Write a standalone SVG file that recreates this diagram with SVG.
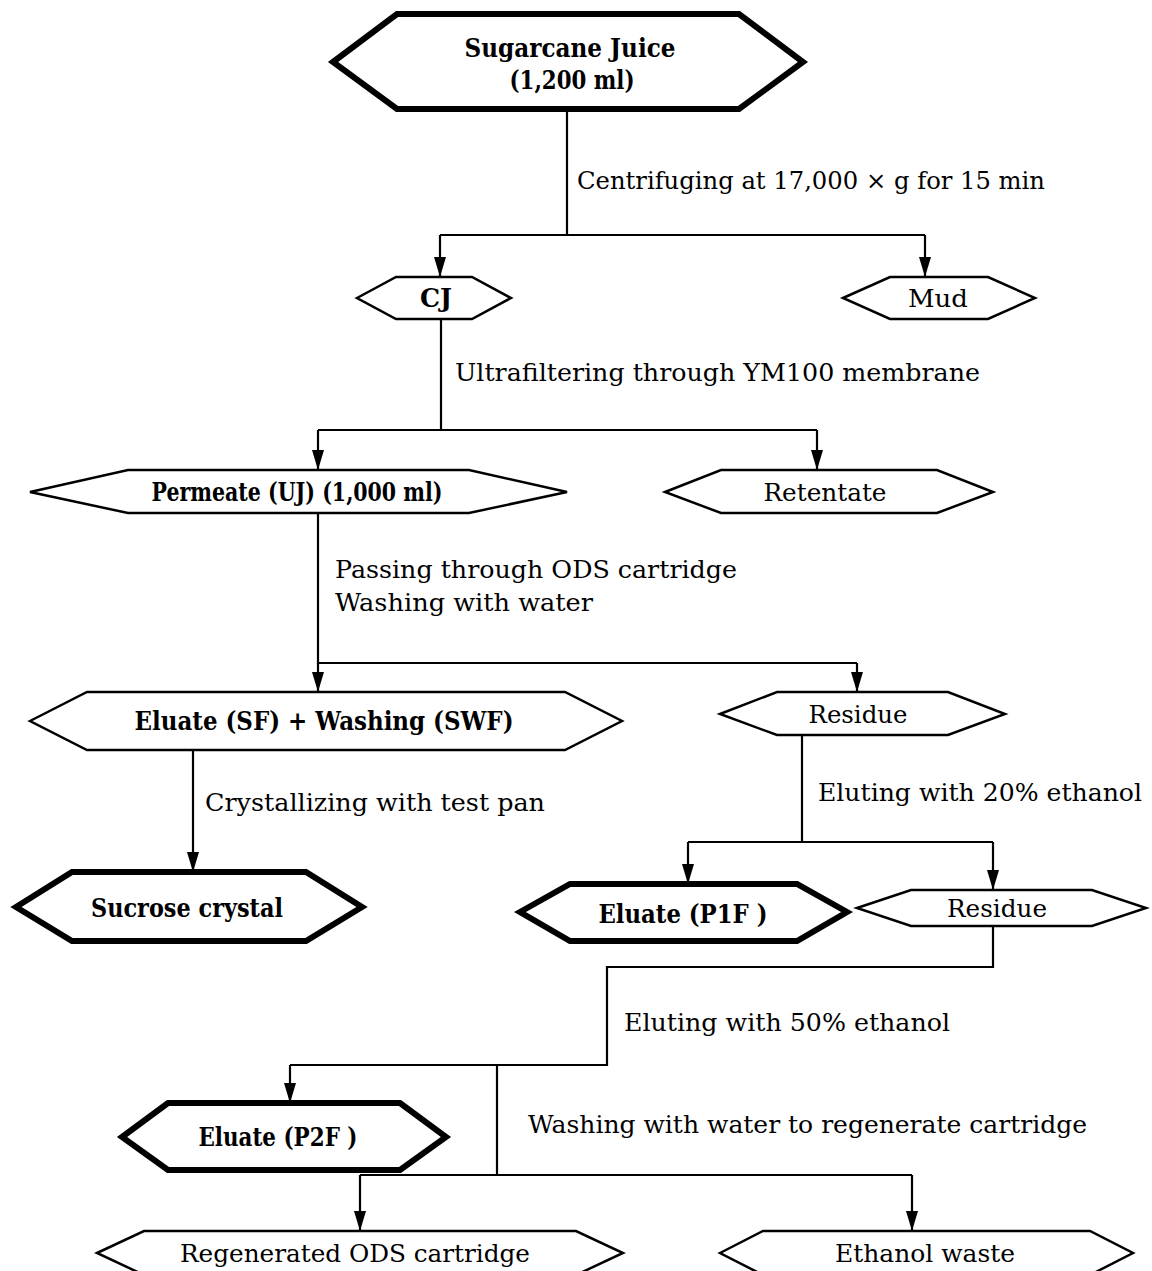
<svg xmlns="http://www.w3.org/2000/svg" width="1152" height="1271" viewBox="0 0 1152 1271">
<style>
.bg{fill:#fff}
.hx{fill:#fff;stroke:#000;stroke-width:2.5;stroke-linejoin:miter}
.hk{fill:#fff;stroke:#000;stroke-width:6;stroke-linejoin:miter}
.t{font-family:"DejaVu Serif","Liberation Serif",serif;font-size:25px;fill:#000;dominant-baseline:central}
.b{font-family:"DejaVu Serif","Liberation Serif",serif;font-size:26px;font-weight:bold;fill:#000;dominant-baseline:central;text-anchor:middle}
.m{text-anchor:middle}
.c{fill:none;stroke:#000;stroke-width:2.2}
</style>
<defs>
<marker id="ah" viewBox="0 0 20 12" refX="20" refY="6" markerWidth="20" markerHeight="12" markerUnits="userSpaceOnUse" orient="auto">
<path d="M0,0 L20,6 L0,12 z" fill="#000"/>
</marker>
</defs>
<rect class="bg" x="0" y="0" width="1152" height="1271"/>

<g id="connectors">
<path class="c" d="M567,110 V235 M440,235 H925"/>
<path class="c" d="M440,235 V277" marker-end="url(#ah)"/>
<path class="c" d="M925,235 V277" marker-end="url(#ah)"/>
<path class="c" d="M441,319 V430 M318,430 H817"/>
<path class="c" d="M318,430 V470" marker-end="url(#ah)"/>
<path class="c" d="M817,430 V470" marker-end="url(#ah)"/>
<path class="c" d="M318,513 V663 H857"/>
<path class="c" d="M318,663 V692" marker-end="url(#ah)"/>
<path class="c" d="M857,663 V692" marker-end="url(#ah)"/>
<path class="c" d="M193,750 V872" marker-end="url(#ah)"/>
<path class="c" d="M802,735 V842 M688,842 H993"/>
<path class="c" d="M688,842 V884" marker-end="url(#ah)"/>
<path class="c" d="M993,842 V890" marker-end="url(#ah)"/>
<path class="c" d="M993,926 V967 H607 V1065 H290"/>
<path class="c" d="M290,1065 V1103" marker-end="url(#ah)"/>
<path class="c" d="M497,1065 V1175 M360,1175 H912"/>
<path class="c" d="M360,1175 V1231" marker-end="url(#ah)"/>
<path class="c" d="M912,1175 V1231" marker-end="url(#ah)"/>
<text class="t" x="577" y="180" textLength="468" lengthAdjust="spacingAndGlyphs">Centrifuging at 17,000 × g for 15 min</text>
<text class="t" x="455" y="372" textLength="525" lengthAdjust="spacingAndGlyphs">Ultrafiltering through YM100 membrane</text>
<text class="t" x="335" y="569" textLength="402" lengthAdjust="spacingAndGlyphs">Passing through ODS cartridge</text>
<text class="t" x="335" y="602" textLength="258" lengthAdjust="spacingAndGlyphs">Washing with water</text>
<text class="t" x="205" y="802" textLength="340" lengthAdjust="spacingAndGlyphs">Crystallizing with test pan</text>
<text class="t" x="818" y="792" textLength="324" lengthAdjust="spacingAndGlyphs">Eluting with 20% ethanol</text>
<text class="t" x="624" y="1022" textLength="326" lengthAdjust="spacingAndGlyphs">Eluting with 50% ethanol</text>
<text class="t" x="528" y="1124" textLength="559" lengthAdjust="spacingAndGlyphs">Washing with water to regenerate cartridge</text>
</g>

<g id="sugarcane">
<polygon class="hk" points="333,62 397,14 739,14 803,62 739,109 397,109"/>
<text class="b" x="570" y="48" textLength="211" lengthAdjust="spacingAndGlyphs">Sugarcane Juice</text>
<text class="b" x="572" y="80" textLength="125" lengthAdjust="spacingAndGlyphs">(1,200 ml)</text>
</g>
<g id="cj">
<polygon class="hx" points="357,298 396,277 472,277 511,298 472,319 396,319"/>
<text class="b" x="436" y="298" textLength="32" lengthAdjust="spacingAndGlyphs">CJ</text>
</g>
<g id="mud">
<polygon class="hx" points="843,298 890,277 988,277 1035,298 988,319 890,319"/>
<text class="t m" x="938" y="298" textLength="60" lengthAdjust="spacingAndGlyphs">Mud</text>
</g>
<g id="permeate">
<polygon class="hx" points="30,492 128,470 469,470 567,492 469,513 128,513"/>
<text class="b" x="297" y="492" textLength="291" lengthAdjust="spacingAndGlyphs">Permeate (UJ) (1,000 ml)</text>
</g>
<g id="retentate">
<polygon class="hx" points="665,492 721,470 937,470 993,492 937,513 721,513"/>
<text class="t m" x="825" y="492" textLength="123" lengthAdjust="spacingAndGlyphs">Retentate</text>
</g>
<g id="eluate-sf">
<polygon class="hx" points="30,721 87,692 565,692 622,721 565,750 87,750"/>
<text class="b" x="324" y="721" textLength="379" lengthAdjust="spacingAndGlyphs">Eluate (SF) + Washing (SWF)</text>
</g>
<g id="residue1">
<polygon class="hx" points="720,714 777,692 948,692 1005,714 948,735 777,735"/>
<text class="t m" x="858" y="714" textLength="99" lengthAdjust="spacingAndGlyphs">Residue</text>
</g>
<g id="sucrose">
<polygon class="hk" points="16,907 72,872 306,872 362,907 306,941 72,941"/>
<text class="b" x="187" y="908" textLength="192" lengthAdjust="spacingAndGlyphs">Sucrose crystal</text>
</g>
<g id="eluate-p1f">
<polygon class="hk" points="520,912 570,884 797,884 847,912 797,941 570,941"/>
<text class="b" x="683" y="914" textLength="169" lengthAdjust="spacingAndGlyphs">Eluate (P1F )</text>
</g>
<g id="residue2">
<polygon class="hx" points="857,908 911,890 1092,890 1146,908 1092,926 911,926"/>
<text class="t m" x="997" y="908" textLength="100" lengthAdjust="spacingAndGlyphs">Residue</text>
</g>
<g id="eluate-p2f">
<polygon class="hk" points="122,1137 168,1103 400,1103 446,1137 400,1170 168,1170"/>
<text class="b" x="278" y="1137" textLength="159" lengthAdjust="spacingAndGlyphs">Eluate (P2F )</text>
</g>
<g id="regenerated">
<polygon class="hx" points="97,1253 144,1231 576,1231 623,1253 576,1275 144,1275"/>
<text class="t m" x="355" y="1253" textLength="350" lengthAdjust="spacingAndGlyphs">Regenerated ODS cartridge</text>
</g>
<g id="ethanol-waste">
<polygon class="hx" points="720,1253 763,1231 1090,1231 1133,1253 1090,1275 763,1275"/>
<text class="t m" x="925" y="1253" textLength="180" lengthAdjust="spacingAndGlyphs">Ethanol waste</text>
</g>
</svg>
